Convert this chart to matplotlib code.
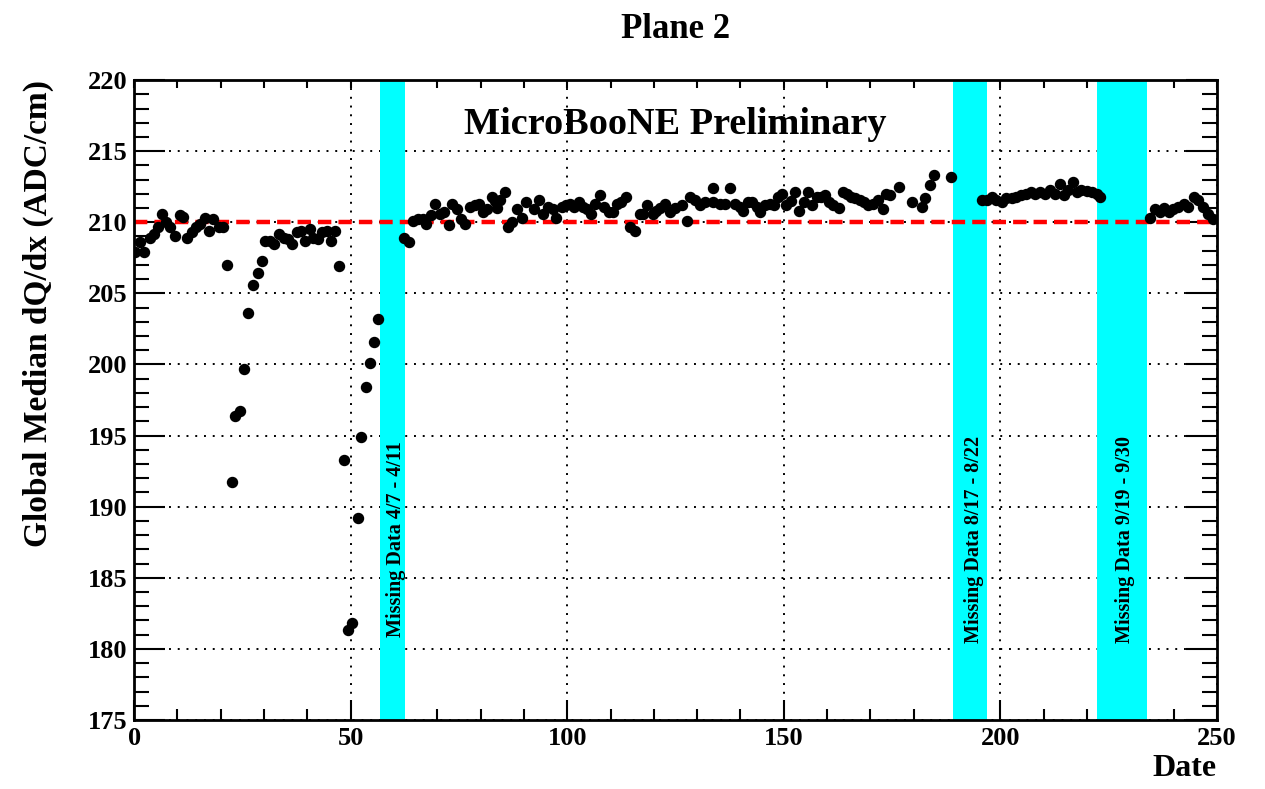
import numpy as np
import matplotlib
matplotlib.use('Agg')
from matplotlib import pyplot as plt
from matplotlib.ticker import MultipleLocator

plt.rcParams['font.family'] = ['Liberation Serif', 'DejaVu Serif']
plt.rcParams['font.weight'] = 'bold'

# day number and median dQ/dx
dates = [0.2, 1.4, 2.3, 3.7, 4.6, 5.6, 6.4, 7.4, 8.3, 9.5, 10.5, 11.2, 12.3, 13.3,
         14.2, 15.2, 16.4, 17.4, 18.3, 19.5, 20.6, 21.4, 22.5, 23.4, 24.5, 25.4,
         26.4, 27.5, 28.5, 29.5, 30.2, 31.4, 32.4, 33.5, 34.6, 35.6, 36.5, 37.5,
         38.5, 39.5, 40.6, 41.4, 42.5, 43.4, 44.5, 45.5, 46.5, 47.4, 48.5, 49.4,
         50.4, 51.6, 52.3, 53.5, 54.5, 55.5, 56.4,
         62.3, 63.5, 64.5, 65.6, 66.6, 67.4, 68.5, 69.5, 70.6, 71.6, 72.6, 73.3,
         74.5, 75.5, 76.5, 77.6, 78.7, 79.6, 80.6, 81.4, 82.6, 83.3, 83.7, 84.5,
         85.6, 86.4, 87.2, 88.3, 89.5, 90.4, 92.3, 93.5, 94.5, 95.6, 96.8, 97.5,
         98.7, 99.7, 100.6, 101.6, 102.7, 103.7, 104.6, 105.6, 106.4, 107.6,
         108.5, 109.7, 110.6, 111.5, 112.5, 113.6, 114.5, 115.6, 116.7, 117.6,
         118.5, 119.7, 120.6, 121.4, 122.6, 123.7, 124.9, 126.4, 127.6, 128.3,
         129.5, 130.7, 131.8, 133.6, 133.7, 135.3, 136.4, 137.6, 138.7, 139.9,
         140.6, 141.8, 142.6, 143.7, 144.5, 145.7, 146.8, 147.7, 148.7, 149.7,
         150.5, 151.6, 152.6, 153.6, 154.7, 155.6, 156.6, 157.6, 158.5, 159.5,
         160.5, 161.4, 162.7, 163.6, 164.5, 165.5, 166.4, 167.6, 168.5, 169.5,
         170.7, 171.8, 172.8, 173.7, 174.5, 176.7, 179.7, 181.8, 182.7, 183.7,
         184.6, 188.7,
         195.7, 196.8, 198.0, 199.1, 200.3, 201.4, 202.6, 203.6, 204.7, 205.9,
         207.0, 208.1, 209.1, 210.3, 211.4, 212.6, 213.8, 214.7, 215.7, 216.7,
         217.7, 218.7, 219.9, 221.1, 222.2, 223.0,
         234.5, 235.7, 236.8, 237.8, 239.0, 239.9, 241.1, 242.3, 243.4, 244.8,
         245.7, 246.8, 248.0, 249.2]
dqdx = [207.9, 208.6, 207.9, 208.9, 209.2, 209.7, 210.6, 210.0, 209.7, 209.0,
        210.5, 210.4, 208.9, 209.3, 209.7, 209.9, 210.3, 209.4, 210.2, 209.7,
        209.7, 207.0, 191.7, 196.4, 196.7, 199.7, 203.6, 205.6, 206.4, 207.3,
        208.7, 208.7, 208.5, 209.2, 208.9, 208.8, 208.5, 209.3, 209.4, 208.7,
        209.5, 208.9, 208.8, 209.3, 209.4, 208.7, 209.4, 206.9, 193.3, 181.3,
        181.8, 189.2, 194.9, 198.4, 200.1, 201.6, 203.2,
        208.9, 208.6, 210.1, 210.2, 210.2, 209.9, 210.5, 211.3, 210.6, 210.7,
        209.8, 211.3, 210.9, 210.2, 209.9, 211.1, 211.2, 211.3, 210.7, 210.9,
        211.8, 211.5, 211.0, 211.6, 212.1, 209.7, 210.0, 210.9, 210.3, 211.4,
        210.9, 211.6, 210.6, 211.1, 210.9, 210.3, 211.1, 211.2, 211.3, 211.1,
        211.4, 211.1, 210.9, 210.6, 211.3, 211.9, 211.1, 210.7, 210.7, 211.3,
        211.4, 211.8, 209.7, 209.4, 210.6, 210.6, 211.2, 210.6, 210.8, 211.0,
        211.3, 210.7, 211.0, 211.2, 210.1, 211.8, 211.6, 211.2, 211.4, 212.4,
        211.4, 211.3, 211.3, 212.4, 211.3, 211.1, 210.8, 211.4, 211.4, 211.1,
        210.7, 211.2, 211.3, 211.2, 211.8, 212.0, 211.2, 211.5, 212.1, 210.8,
        211.4, 212.1, 211.2, 211.8, 211.8, 211.9, 211.4, 211.2, 211.0, 212.1,
        212.0, 211.8, 211.7, 211.6, 211.4, 211.2, 211.3, 211.6, 210.9, 212.0,
        211.9, 212.5, 211.4, 211.1, 211.7, 212.6, 213.3, 213.2,
        211.6, 211.6, 211.8, 211.6, 211.4, 211.7, 211.7, 211.8, 211.9, 212.0,
        212.1, 212.0, 212.1, 212.0, 212.3, 212.0, 212.7, 211.9, 212.3, 212.8,
        212.1, 212.3, 212.2, 212.1, 212.0, 211.8,
        210.3, 210.9, 210.7, 211.0, 210.7, 210.9, 211.1, 211.3, 211.1, 211.8,
        211.6, 211.1, 210.6, 210.2]

# missing data periods
gap_start = [56.8, 189.1, 222.3]
gap_end = [62.6, 196.9, 233.8]
gap_labels = ['Missing Data 4/7 - 4/11', 'Missing Data 8/17 - 8/22',
              'Missing Data 9/19 - 9/30']
reference = 210

fig = plt.figure(figsize=(12.65, 7.89), dpi=100)
ax = fig.add_axes([0.106, 0.0875, 0.856, 0.811])

ax.set_xlim(0, 250)
ax.set_ylim(175, 220)

ax.grid(True, which='major', color='black', linestyle=(0, (1, 3.5)), linewidth=1.4)
ax.set_axisbelow(True)

for s, e, lab in zip(gap_start, gap_end, gap_labels):
    ax.axvspan(s, e, color='#00ffff', zorder=1.5, lw=0)
    ax.text((s + e) / 2 + 0.8, 187.7, lab, rotation=90, ha='center', va='center',
            fontsize=14.5, fontweight='bold', zorder=3)

ax.axhline(reference, color='red', linewidth=3.2, linestyle=(0, (3, 1.6)), zorder=2)

ax.scatter(dates, dqdx, s=52, color='black', zorder=4)

ax.text(0.5, 0.93, 'MicroBooNE Preliminary', transform=ax.transAxes,
        ha='center', va='center', fontsize=27.5, fontweight='bold')

ax.xaxis.set_major_locator(MultipleLocator(50))
ax.xaxis.set_minor_locator(MultipleLocator(10))
ax.yaxis.set_major_locator(MultipleLocator(5))
ax.yaxis.set_minor_locator(MultipleLocator(1))
ax.tick_params(which='both', direction='in', top=False, right=True, labelsize=19,
               width=1.5)
ax.tick_params(axis='x', which='major', length=14.5, pad=5)
ax.tick_params(axis='x', which='minor', length=8)
ax.tick_params(axis='y', which='major', length=22, pad=5)
ax.tick_params(axis='y', which='minor', length=11)
for lbl in ax.get_xticklabels() + ax.get_yticklabels():
    lbl.set_fontweight('bold')
for sp in ax.spines.values():
    sp.set_linewidth(2)

# short ticks along the top edge
top = ax.secondary_xaxis('top')
top.xaxis.set_major_locator(MultipleLocator(10))
top.tick_params(direction='in', length=6, width=1.5, labeltop=False)

ax.set_title('Plane 2', fontsize=25, fontweight='bold', pad=30)
ax.set_ylabel('Global Median dQ/dx (ADC/cm)', fontsize=24, fontweight='bold',
              loc='top', labelpad=24)
ax.set_xlabel('Date', fontsize=23, fontweight='bold', loc='right', labelpad=3)

plt.savefig('out.png', dpi=100)
